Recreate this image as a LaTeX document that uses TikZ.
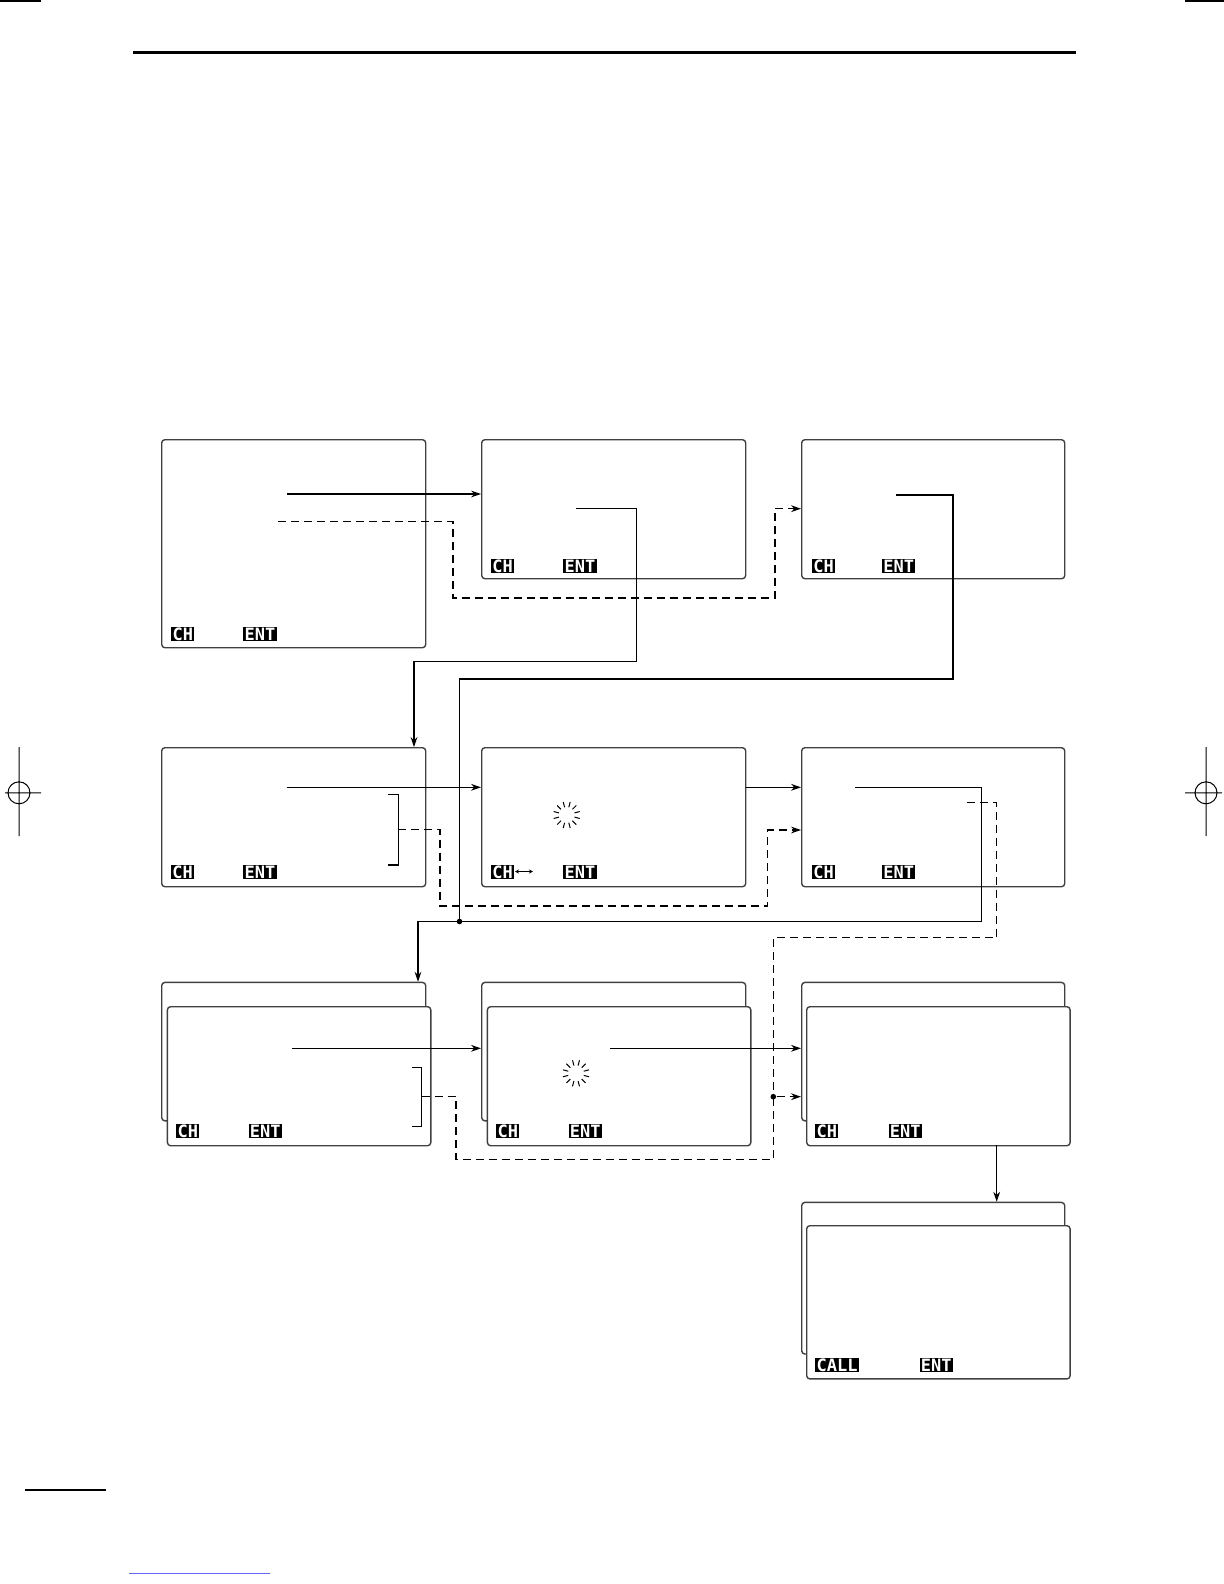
\documentclass[tikz,border=0pt]{standalone}
\usepackage{fontspec}
\newfontfamily\lcdfont{DejaVu Sans Mono}
\usetikzlibrary{arrows.meta}
\begin{document}
\begin{tikzpicture}[x=0.5pt,y=-0.5pt,
  screen/.style={draw=black!75, line width=0.7pt, rounded corners=1.6pt, fill=white, anchor=north west, inner sep=0pt},
  lcd/.style={fill=black, text=white, font=\lcdfont\bfseries\fontsize{8.5}{9}\selectfont, inner xsep=0.6pt, inner ysep=0.3pt, text height=6.2pt, text depth=0pt, anchor=north west},
  conn/.style={line width=0.55pt, draw=black},
  dconn/.style={conn, dash pattern=on 4pt off 2.5pt},
  tip/.style={-{Stealth[length=5pt,width=3.4pt]}},
  junction/.style={circle, fill=black, inner sep=0pt, minimum size=2.8pt},
  regmark/.style={line width=0.5pt, draw=black}
]
\useasboundingbox (0,0) rectangle (1224,1584);

% page furniture
\draw[line width=1.2pt] (133,52.7) -- (1076,52.7);
\draw[line width=0.8pt] (0,1) -- (41,1);
\draw[line width=0.8pt] (1185,1) -- (1224,1);
\draw[regmark] (19,747) -- (19,836) (5,792.8) -- (41,792.8) (19,792.8) circle[radius=11];
\draw[regmark] (1206,747) -- (1206,836) (1185,792.8) -- (1222,792.8) (1206,792.8) circle[radius=11];
\draw[line width=1pt] (25,1490) -- (106,1490);
\draw[line width=0.5pt, blue!60] (129,1573) -- (270,1573);

% screens
\node[screen, minimum width=132pt, minimum height=104pt] (b1) at (161,439) {};
\node[screen, minimum width=132pt, minimum height=69.5pt] (b2) at (481,439) {};
\node[screen, minimum width=131.5pt, minimum height=69.5pt] (b3) at (801,439) {};
\node[screen, minimum width=132pt, minimum height=69.5pt] (b4) at (161,747) {};
\node[screen, minimum width=132pt, minimum height=69.5pt] (b5) at (481,747) {};
\node[screen, minimum width=131.5pt, minimum height=69.5pt] (b6) at (801,747) {};
\node[screen, minimum width=132pt, minimum height=69.2pt] (b7back) at (161,981.7) {};
\node[screen, minimum width=131.7pt, minimum height=69.5pt] (b7) at (166.7,1006) {};
\node[screen, minimum width=132pt, minimum height=69.2pt] (b8back) at (481,981.7) {};
\node[screen, minimum width=131.7pt, minimum height=69.5pt] (b8) at (486.7,1006) {};
\node[screen, minimum width=131.5pt, minimum height=69.2pt] (b9back) at (801,981.7) {};
\node[screen, minimum width=131.7pt, minimum height=69.5pt] (b9) at (806,1006) {};
\node[screen, minimum width=131.5pt, minimum height=75.8pt] (b10back) at (801,1201.7) {};
\node[screen, minimum width=131.7pt, minimum height=76.6pt] (b10) at (806,1225) {};

% soft-key labels
\node[lcd] (l1a) at (171,627) {CH};   \node[lcd] (l1b) at (243,627) {ENT};
\node[lcd] (l2a) at (490.7,559) {CH}; \node[lcd] (l2b) at (563,559) {ENT};
\node[lcd] (l3a) at (811.7,559) {CH}; \node[lcd] (l3b) at (881.7,559) {ENT};
\node[lcd] (l4a) at (170.7,865) {CH}; \node[lcd] (l4b) at (243,865) {ENT};
\node[lcd] (l5a) at (490.7,865) {CH}; \node[lcd] (l5b) at (563,865) {ENT};
\node[lcd] (l6a) at (811.7,865) {CH}; \node[lcd] (l6b) at (881.7,865) {ENT};
\node[lcd] (l7a) at (176,1124) {CH};  \node[lcd] (l7b) at (248.3,1124) {ENT};
\node[lcd] (l8a) at (496,1124) {CH};  \node[lcd] (l8b) at (568.3,1124) {ENT};
\node[lcd] (l9a) at (815,1124) {CH};  \node[lcd] (l9b) at (888.3,1124) {ENT};
\node[lcd] (l10a) at (815,1358) {CALL}; \node[lcd] (l10b) at (919.3,1358) {ENT};
\draw[line width=0.5pt, {Stealth[length=2pt,width=2pt]}-{Stealth[length=2pt,width=2pt]}] (515,871.5) -- (533,871.5);

% busy spinners
\foreach \a in {15,45,...,345} {
  \draw[line width=0.5pt, shift={(566.7,815)}] (\a:8) -- (\a:13.5);
  \draw[line width=0.5pt, shift={(576,1073.3)}] (\a:8) -- (\a:13.5);
}

% brackets
\draw[conn] (388,794.3) -- (398.3,794.3) -- (398.3,865) -- (388,865);
\draw[conn] (411.7,1067.3) -- (421.7,1067.3) -- (421.7,1126.7) -- (411.7,1126.7);

% free ends and bends
\coordinate (s1) at (287,494);
\coordinate (d1) at (278,521.7);
\coordinate (c2) at (775,508.7);
\coordinate (s2) at (576,508.7);
\coordinate (k3) at (414,661.5);
\coordinate (s3) at (896,495);
\coordinate (s4) at (286.7,787.3);
\coordinate (br4) at (398.3,829.3);
\coordinate (k6) at (767.6,830);
\coordinate (s6) at (855,787.3);
\coordinate (k8) at (418,921.5);
\coordinate (d6) at (966.7,802.7);
\coordinate (s7) at (291.7,1048.3);
\coordinate (br7) at (421.7,1096.7);
\coordinate (s8) at (610,1048.3);
\coordinate (k13) at (996.7,1145);
\node[junction] (j1) at (459.5,921.5) {};
\node[junction] (j2) at (773.3,1096.7) {};

% connectors
\draw[conn,tip] (s1) -- (s1 -| b2.west);
\draw[dconn,tip] (d1) -- (453,521.7) -- (453,598) -- (775,598) -- (c2) -- (c2 -| b3.west);
\draw[conn,tip] (s2) -- (636.7,508.7) -- (636.7,661.5) -- (k3) -- (k3 |- b4.north);
\draw[conn] (s3) -- (953,495) -- (953,679) -- (459.5,679) -- (j1.center);
\draw[conn,tip] (s4) -- (s4 -| b5.west);
\draw[conn,tip] (b5.east |- s4) -- (b6.west |- s4);
\draw[dconn,tip] (br4) -- (440,829.3) -- (440,906) -- (767.6,906) -- (k6) -- (k6 -| b6.west);
\draw[conn,tip] (s6) -- (981.7,787.3) -- (981.7,921.5) -- (k8) -- (k8 |- b7back.north);
\draw[dconn] (d6) -- (996.7,802.7) -- (996.7,937.5) -- (773.3,937.5) -- (j2.center);
\draw[dconn] (br7) -- (456,1096.7) -- (456,1159.6) -- (773.3,1159.6) -- (j2.center);
\draw[dconn,tip] (j2) -- (j2 -| b9back.west);
\draw[conn,tip] (s7) -- (s7 -| b8back.west);
\draw[conn,tip] (s8) -- (s8 -| b9back.west);
\draw[conn,tip] (k13) -- (k13 |- b10back.north);
\end{tikzpicture}
\end{document}
